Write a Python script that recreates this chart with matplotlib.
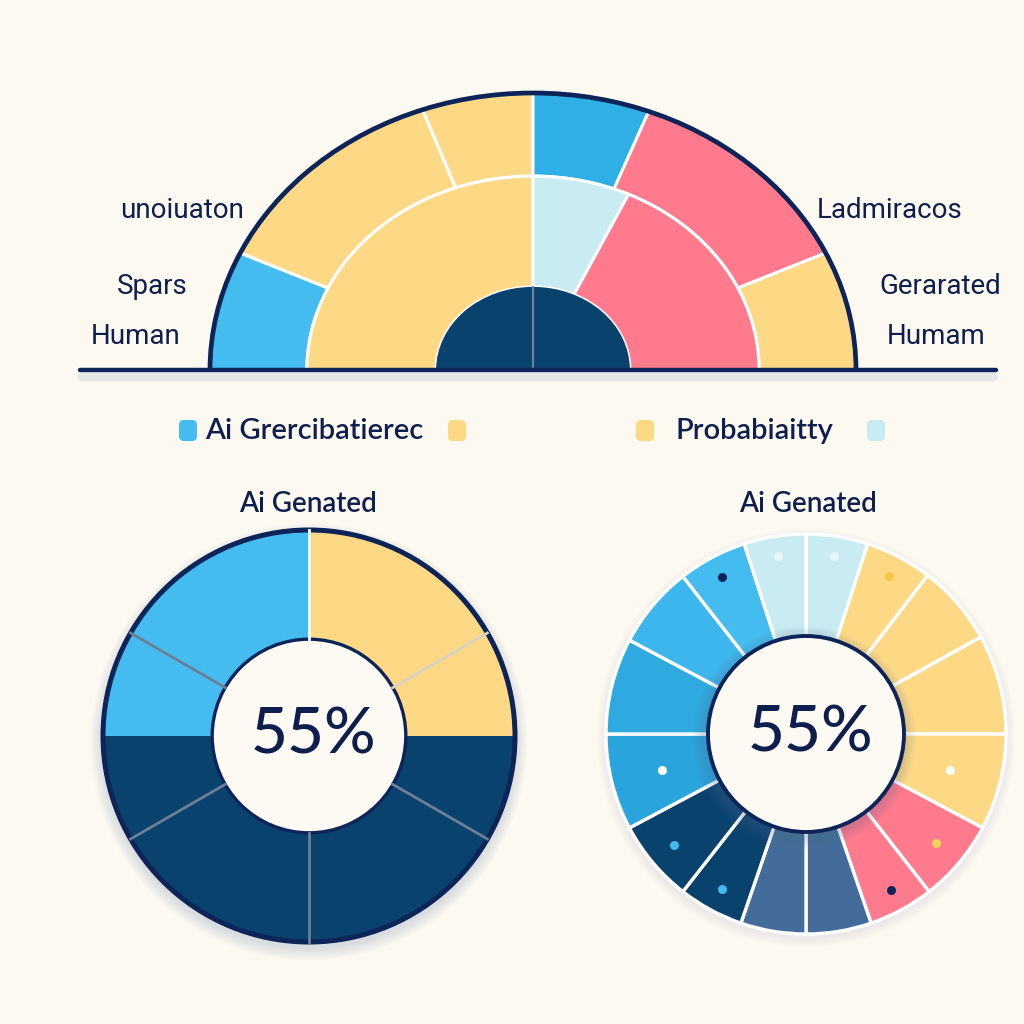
import numpy as np
import matplotlib.pyplot as plt
from matplotlib.patches import Wedge, Circle, Arc, FancyBboxPatch

W = 1024
BG = "#fcf9f0"
INK = "#0f1f4d"
OUTLINE = "#0d2458"

YELLOW = "#fdd985"
PINK = "#fe7a8c"
CYAN = "#c8ecf2"
BLUE = "#45bcf0"
BLUE2 = "#2eafe6"
NAVY = "#0a426e"
MIDBLUE = "#436c9a"

# top half donut (degrees, clockwise from the left end)
top_outer = [25, 45, 20, 21, 44, 25]
top_outer_colors = [BLUE, YELLOW, YELLOW, BLUE2, PINK, YELLOW]
top_mid = [90, 25, 65]
top_mid_colors = [YELLOW, CYAN, PINK]
top_inner = [90, 90]

left_labels = ["unoiuaton", "Spars", "Human"]
right_labels = ["Ladmiracos", "Gerarated", "Humam"]
legend_labels = ["Ai Grercibatierec", "Probabiaitty"]

# bottom left donut (degrees, counter-clockwise from 3 o'clock)
donut_vals = [30, 60, 60, 30, 30, 60, 60, 30]
donut_colors = [YELLOW, YELLOW, BLUE, BLUE, NAVY, NAVY, NAVY, NAVY]
donut_seps = ["#d8d2c4", "white", "#6d7f96", None, "#6d7f96", "#6d7f96", "#6d7f96", None]

# bottom right wheel (degrees, clockwise from 12 o'clock)
wheel_vals = [18, 19.5, 23.5, 29, 28, 24, 19, 19, 19, 19, 24, 28, 28, 24, 20, 18]
wheel_colors = [CYAN, YELLOW, YELLOW, YELLOW, YELLOW, PINK, PINK, MIDBLUE,
                MIDBLUE, NAVY, NAVY, "#2aa4dc", "#2eaae0", "#3cb6ec", BLUE, CYAN]
dot_seg = [0, 1, 4, 5, 6, 9, 10, 11, 14, 15]
dot_r = [0.90, 0.89, 0.74, 0.85, 0.89, 0.88, 0.86, 0.74, 0.89, 0.90]
dot_colors = ["#e6f6fa", "#f5c842", "white", "#f7d25a", OUTLINE,
              "#45b8ee", "#45b8ee", "white", OUTLINE, "#e6f6fa"]

center_text = "55%"
chart_title = "Ai Genated"

fig = plt.figure(figsize=(10.24, 10.24), dpi=100, facecolor=BG)


def px_axes():
    ax = fig.add_axes([0, 0, 1, 1])
    ax.set_xlim(0, W)
    ax.set_ylim(W, 0)
    ax.axis("off")
    return ax


def overlay(cx, cy, rx, ry=None):
    # unit circle of this axes lands on an ellipse centred at (cx, cy) pixels
    ry = ry or rx
    ax = fig.add_axes([0, 0, 1, 1])
    ax.set_xlim(-cx / rx, (W - cx) / rx)
    ax.set_ylim((cy - W) / ry, cy / ry)
    ax.axis("off")
    return ax


# soft shadows behind everything
bg = px_axes()
for k in range(8):
    bg.add_patch(Circle((309, 742), 207 + k * 1.6, fc="#7f93b5", ec="none", alpha=0.035))
    bg.add_patch(Circle((806, 738), 201 + k * 1.2, fc="#7f93b5", ec="none", alpha=0.015))
bg.plot([82, 994], [377, 377], color="#c9cfdc", lw=6, alpha=0.45, solid_capstyle="round")

# ---- top half donut
top = overlay(533, 370, 323, 277)
start = 180
for v, c in zip(top_outer, top_outer_colors):
    top.add_patch(Wedge((0, 0), 1.0, start - v, start, width=0.30, fc=c, ec="white", lw=2.2))
    start -= v
start = 180
for v, c in zip(top_mid, top_mid_colors):
    top.add_patch(Wedge((0, 0), 0.70, start - v, start, width=0.40, fc=c, ec="white", lw=2.2))
    start -= v
start = 180
for v in top_inner:
    top.add_patch(Wedge((0, 0), 0.30, start - v, start, fc=NAVY, ec="none"))
    start -= v
top.plot([0, 0], [0, 0.30], color="#6f84a0", lw=1.5)
top.add_patch(Arc((0, 0), 2.0, 2.0, theta1=0, theta2=180, color=OUTLINE, lw=3.4))

# ---- bottom left donut
left = overlay(309, 736, 206)
r_in = 0.47
start = 0
for v, c in zip(donut_vals, donut_colors):
    left.add_patch(Wedge((0, 0), 1.0, start, start + v, fc=c, ec="none"))
    start += v
for b, sc in zip(np.cumsum(donut_vals), donut_seps):
    if sc is None:
        continue
    a = np.deg2rad(b)
    left.plot([r_in * np.cos(a), np.cos(a)], [r_in * np.sin(a), np.sin(a)], color=sc, lw=2)
left.add_patch(Circle((0, 0), 1.0, fc="none", ec=OUTLINE, lw=3.6))
left.add_patch(Circle((0, 0), r_in, fc="#fdfaf3", ec=OUTLINE, lw=2.4))
left.text(0.02, 0, center_text, ha="center", va="center", fontsize=46,
          family="Lato", fontweight="medium", color=INK)

# ---- bottom right wheel
right = overlay(806, 734, 200)
start = 90
mids = []
for v, c in zip(wheel_vals, wheel_colors):
    right.add_patch(Wedge((0, 0), 1.0, start - v, start, fc=c, ec="white", lw=2.4))
    mids.append(start - v / 2)
    start -= v
for s, r, c in zip(dot_seg, dot_r, dot_colors):
    a = np.deg2rad(mids[s])
    right.plot(r * np.cos(a), r * np.sin(a), "o", ms=6.5, color=c, mec="none")
r_in = 0.49
for k in range(8):
    right.add_patch(Circle((-0.01, -0.02), r_in + 0.012 + k * 0.008, fc="#5a6f93",
                           ec="none", alpha=0.035))
right.add_patch(Circle((0, 0), r_in, fc="#fdfaf3", ec=OUTLINE, lw=2.8))
right.text(0.02, 0, center_text, ha="center", va="center", fontsize=46,
           family="Lato", fontweight="medium", color=INK)

# ---- texts, baseline, legend swatches
tx = px_axes()
tx.plot([80, 996], [370, 370], color=OUTLINE, lw=3.2, solid_capstyle="round")

lab_font = dict(family="Roboto", fontsize=20, color=INK, va="center")
for lab, (x, y) in zip(left_labels, [(182, 211), (152, 287), (136, 336)]):
    tx.text(x, y, lab, ha="center", **lab_font)
for lab, (x, y) in zip(right_labels, [(890, 211), (940, 287), (936, 336)]):
    tx.text(x, y, lab, ha="center", **lab_font)

for x, c in [(188, BLUE), (457, YELLOW), (645, YELLOW), (876, CYAN)]:
    tx.add_patch(FancyBboxPatch((x - 9, 420), 18, 21,
                                boxstyle="round,pad=0,rounding_size=5",
                                fc=c, ec="none"))
tx.text(205, 431, legend_labels[0], ha="left", va="center", family="Lato",
        fontsize=21, fontweight="semibold", color=INK)
tx.text(675, 431, legend_labels[1], ha="left", va="center", family="Lato",
        fontsize=21, fontweight="semibold", color=INK)

for x in (308, 808):
    tx.text(x, 504, chart_title, ha="center", va="center", family="Lato",
            fontsize=20, fontweight="semibold", color=INK)

fig.savefig("out.png", dpi=100, facecolor=BG)
